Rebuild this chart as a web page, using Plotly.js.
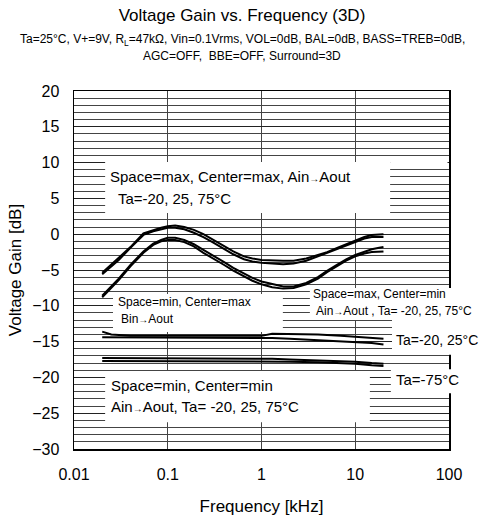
<!DOCTYPE html>
<html>
<head>
<meta charset="utf-8">
<script src="https://cdn.plot.ly/plotly-3.0.1.min.js"></script>
<style>html,body{margin:0;padding:0;background:#fff;}#chart{width:484px;height:522px;}</style>
</head>
<body>
<div id="chart"></div>
<script>
// ---- data ----
const freqCurve = [0.02, 0.03, 0.04, 0.055, 0.07, 0.085, 0.1, 0.12, 0.15, 0.19, 0.24, 0.3, 0.4, 0.5, 0.65, 0.8, 1, 1.3, 1.7, 2.2, 3, 4, 5, 6.5, 8, 10, 12.5, 15, 18, 20];
const maxMaxA = [-5.4, -3.3, -1.8, 0.1, 0.6, 0.9, 1.1, 1.2, 1.0, 0.6, 0.0, -0.7, -1.6, -2.4, -3.1, -3.4, -3.6, -3.7, -3.7, -3.7, -3.4, -2.9, -2.5, -1.9, -1.4, -0.9, -0.4, -0.1, 0.0, 0.0];
const maxMaxB = [-5.6, -3.6, -1.9, -0.1, 0.4, 0.7, 0.9, 0.9, 0.7, 0.2, -0.4, -1.1, -2.0, -2.8, -3.5, -3.8, -4.0, -4.1, -4.2, -4.1, -3.7, -3.1, -2.6, -2.0, -1.5, -1.0, -0.6, -0.4, -0.4, -0.4];
const maxMinA = [-8.6, -6.2, -4.3, -2.4, -1.3, -0.8, -0.5, -0.5, -0.8, -1.4, -2.2, -2.9, -3.9, -4.7, -5.5, -6.1, -6.6, -7.0, -7.3, -7.3, -6.8, -6.0, -5.1, -4.2, -3.5, -2.9, -2.4, -2.1, -1.9, -1.8];
const maxMinB = [-8.8, -6.4, -4.5, -2.6, -1.5, -1.0, -0.8, -0.8, -1.1, -1.7, -2.6, -3.3, -4.3, -5.1, -5.9, -6.5, -7.0, -7.4, -7.6, -7.5, -7.0, -6.2, -5.3, -4.4, -3.7, -3.1, -2.7, -2.5, -2.4, -2.4];

const freqFlat = [0.02, 0.025, 0.04, 0.1, 0.3, 1, 1.3, 2, 4, 7, 10, 15, 20];
const minMaxA = [-13.6, -14.0, -14.2, -14.2, -14.2, -14.2, -13.9, -13.9, -14.0, -14.2, -14.3, -14.5, -14.6];
const minMaxB = [-14.4, -14.4, -14.5, -14.5, -14.5, -14.5, -14.5, -14.6, -14.8, -14.9, -15.0, -15.2, -15.4];
const minMinA = [-17.3, -17.3, -17.35, -17.4, -17.4, -17.4, -17.4, -17.5, -17.6, -17.7, -17.8, -18.0, -18.1];
const minMinB = [-17.7, -17.7, -17.7, -17.7, -17.7, -17.7, -17.7, -17.8, -17.9, -18.0, -18.1, -18.3, -18.4];

const xTickVals = [0.01, 0.1, 1, 10, 100];
const xTickText = ['0.01', '0.1', '1', '10', '100'];
const yTickVals = [-30, -25, -20, -15, -10, -5, 0, 5, 10, 15, 20];

const FONT = 'Liberation Sans, Arial, sans-serif';
const ARROW = '<span style="font-size:10px">→</span>';

function line(x, y) {
  return {x: x, y: y, type: 'scatter', mode: 'lines', line: {color: '#000', width: 2}, hoverinfo: 'skip', showlegend: false};
}
const traces = [
  line(freqCurve, maxMaxA), line(freqCurve, maxMaxB),
  line(freqCurve, maxMinA), line(freqCurve, maxMinB),
  line(freqFlat, minMaxA), line(freqFlat, minMaxB),
  line(freqFlat, minMinA), line(freqFlat, minMinB)
];

function box(x0, x1, y0, y1) {
  return {type: 'rect', xref: 'paper', yref: 'paper', x0: x0, x1: x1, y0: y0, y1: y1,
          fillcolor: '#fff', line: {width: 0}, layer: 'above'};
}
function label(text, x, y, size) {
  return {text: text, xref: 'paper', yref: 'paper', x: x, y: y, xanchor: 'left', yanchor: 'middle',
          showarrow: false, font: {family: FONT, size: size, color: '#000'}};
}

const layout = {
  width: 484, height: 522,
  margin: {l: 74, r: 35, t: 91, b: 73},
  paper_bgcolor: '#fff', plot_bgcolor: '#fff',
  font: {family: FONT, color: '#000'},
  title: {text: 'Voltage Gain vs. Frequency (3D)', font: {family: FONT, size: 17, color: '#000'},
          x: 0.5, xref: 'container', xanchor: 'center', y: 1 - 15 / 522, yref: 'container', yanchor: 'middle'},
  xaxis: {type: 'log', range: [-2, 2], tickmode: 'array', tickvals: xTickVals, ticktext: xTickText,
          showgrid: true, gridcolor: '#444', gridwidth: 1, zeroline: false,
          showline: true, mirror: true, linecolor: '#000', linewidth: 1.5, ticks: '',
          tickfont: {family: FONT, size: 16, color: '#000'}, ticklabelstandoff: 10,
          title: {text: 'Frequency [kHz]', font: {family: FONT, size: 17, color: '#000'}, standoff: 18}},
  yaxis: {range: [-30, 20], tickmode: 'array', tickvals: yTickVals,
          showgrid: true, gridcolor: '#222', gridwidth: 1, zeroline: false,
          minor: {dtick: 1, showgrid: true, gridcolor: '#444', gridwidth: 1, ticks: ''},
          showline: true, mirror: true, linecolor: '#000', linewidth: 1.5, ticks: '',
          tickfont: {family: FONT, size: 16, color: '#000'}, ticklabelstandoff: 10,
          title: {text: 'Voltage Gain [dB]', font: {family: FONT, size: 17, color: '#000'}, standoff: 6}},
  shapes: [
    box(0.083, 0.843, 0.659, 0.802),
    box(0.843, 0.996, 0.785, 0.802),
    box(0.104, 0.557, 0.327, 0.433),
    box(0.629, 1.093, 0.360, 0.450),
    box(0.083, 0.789, 0.075, 0.218),
    box(0.848, 1.093, 0.263, 0.360),
    box(0.845, 1.093, 0.156, 0.223)
  ],
  annotations: [
    {text: 'Ta=25°C, V+=9V, R<sub>L</sub>=47kΩ, Vin=0.1Vrms, VOL=0dB, BAL=0dB, BASS=TREB=0dB,',
     xref: 'paper', yref: 'paper', x: 0.448, y: 1.1425, xanchor: 'center', yanchor: 'middle', showarrow: false,
     font: {family: FONT, size: 12, color: '#000'}},
    {text: 'AGC=OFF,  BBE=OFF, Surround=3D',
     xref: 'paper', yref: 'paper', x: 0.448, y: 1.098, xanchor: 'center', yanchor: 'middle', showarrow: false,
     font: {family: FONT, size: 12, color: '#000'}},
    label('Space=max, Center=max, Ain' + ARROW + 'Aout', 0.090, 0.760, 15),
    label(' Ta=-20, 25, 75°C', 0.100, 0.701, 15),
    label('Space=min, Center=max', 0.112, 0.411, 12),
    label('Bin' + ARROW + 'Aout', 0.120, 0.363, 12),
    label('Space=max, Center=min', 0.632, 0.433, 12),
    label('Ain' + ARROW + 'Aout , Ta= -20, 25, 75°C', 0.640, 0.385, 12),
    label('Space=min, Center=min', 0.094, 0.176, 15),
    label('Ain' + ARROW + 'Aout, Ta= -20, 25, 75°C', 0.094, 0.120, 15),
    label('Ta=-20, 25°C', 0.852, 0.304, 14),
    label('Ta=-75°C', 0.852, 0.193, 15)
  ]
};

Plotly.newPlot('chart', traces, layout, {displayModeBar: false, staticPlot: true});
</script>
</body>
</html>
